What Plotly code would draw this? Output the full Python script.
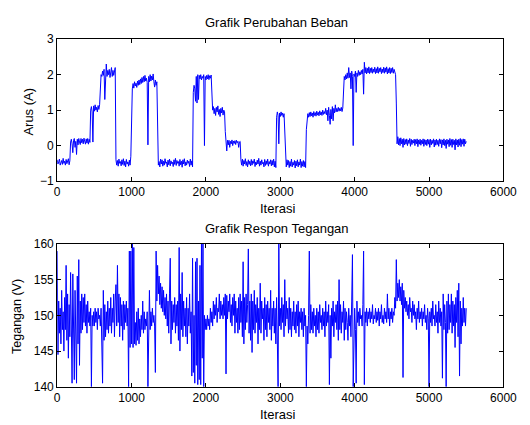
import plotly.graph_objects as go

step = 10
arus = [
    -0.40, -0.52, -0.45, -0.38, -0.55, -0.47, -0.42, -0.53, -0.36, -0.50,
    -0.44, -0.55, -0.39, -0.51, -0.46, -0.37, -0.54, -0.43, 0.10, 0.18,
    0.05, -0.20, 0.15, 0.20, -0.05, 0.12, -0.25, 0.18, 0.02, 0.20,
    0.10, 0.03, 0.20, 0.08, 0.18, 0.05, 0.21, 0.10, 0.04, 0.19,
    0.07, 0.20, 0.04, 0.18, 0.09, 1.00, 1.10, 0.95, 0.10, 1.12,
    0.97, 1.15, 1.00, 1.08, 0.95, 1.13, 1.02, 1.15, 1.60, 2.00,
    1.95, 2.10, 1.98, 2.15, 1.30, 2.05, 2.30, 1.95, 2.12, 2.00,
    2.15, 1.92, 2.08, 2.20, 1.95, 2.12, 1.98, 2.18, 2.20, -0.40,
    -0.55, -0.42, -0.58, -0.38, -0.50, -0.45, -0.57, -0.40, -0.53, -0.37,
    -0.56, -0.44, -0.60, -0.39, -0.52, -0.46, -0.58, -0.41, -0.55, -0.30,
    1.00, 1.60, 1.75, 1.62, 1.80, 1.68, 1.76, 1.64, 1.82, 1.70,
    1.85, 1.72, 1.88, 1.75, 1.92, 1.78, 1.95, 1.80, 1.98, 1.82,
    1.90, 1.78, 0.02, 1.95, 1.80, 2.00, 1.82, 1.96, 1.85, 2.02,
    1.80, 1.65, 1.85, 1.70, 1.80, -0.40, -0.55, -0.45, -0.60, -0.38,
    -0.52, -0.40, -0.58, -0.44, -0.55, -0.37, -0.50, -0.46, -0.60, -0.41,
    -0.54, -0.38, -0.57, -0.43, -0.51, -0.47, -0.59, -0.40, -0.53, -0.36,
    -0.56, -0.42, -0.50, -0.45, -0.58, -0.39, -0.54, -0.44, -0.61, -0.40,
    -0.52, -0.37, -0.57, -0.46, -0.55, -0.41, -0.50, -0.44, -0.59, -0.38,
    -0.55, -0.43, -0.60, 1.50, 1.70, 1.60, 1.25, 1.95, 1.20, 2.00,
    1.30, 1.98, 1.88, 2.00, 1.85, 1.95, 1.90, 2.00, 0.00, 1.95,
    1.85, 1.98, 1.88, 2.00, 1.86, 1.97, 1.90, 1.99, 1.20, 1.00,
    1.10, 0.90, 1.05, 0.85, 1.08, 0.95, 1.12, 0.88, 1.02, 0.82,
    1.05, 0.92, 1.08, 0.86, 1.00, 0.95, 0.40, 0.10, -0.15, 0.15,
    0.02, 0.15, -0.05, 0.12, 0.05, 0.16, 0.00, 0.13, 0.06, 0.14,
    0.03, 0.15, 0.08, 0.12, -0.05, 0.10, 0.12, -0.40, -0.55, -0.38,
    -0.58, -0.42, -0.52, -0.37, -0.56, -0.45, -0.60, -0.40, -0.53, -0.44,
    -0.57, -0.39, -0.55, -0.43, -0.50, -0.38, -0.59, -0.46, -0.54, -0.41,
    -0.52, -0.36, -0.58, -0.44, -0.55, -0.40, -0.51, -0.47, -0.60, -0.39,
    -0.56, -0.43, -0.53, -0.38, -0.58, -0.45, -0.52, -0.40, -0.57, -0.42,
    -0.55, -0.38, -0.60, -0.44, -0.62, 0.80, 0.95, 0.85, 0.05, 0.92,
    0.82, 0.95, 0.85, 0.92, 0.80, 0.90, 0.20, -0.45, -0.60, -0.40,
    -0.55, -0.42, -0.62, -0.45, -0.58, -0.38, -0.60, -0.47, -0.55, -0.42,
    -0.63, -0.44, -0.57, -0.40, -0.60, -0.46, -0.55, -0.38, -0.62, -0.45,
    -0.58, -0.42, -0.60, -0.45, -0.62, 0.45, 0.70, 0.90, 0.80, 0.93,
    0.82, 0.95, 0.84, 0.92, 0.80, 0.96, 0.85, 0.93, 0.83, 0.97,
    0.86, 0.94, 0.84, 0.98, 0.87, 0.95, 0.85, 1.00, 0.88, 0.96,
    0.90, 1.05, 0.87, 1.00, 0.70, 1.08, 0.85, 0.60, 1.02, 0.75,
    1.10, 0.70, 1.05, 0.92, 1.15, 0.95, 1.05, 0.96, 1.08, 0.97,
    1.05, 0.98, 1.08, 0.96, 1.06, 1.40, 1.95, 1.85, 2.00, 1.88,
    2.05, 1.90, 2.20, 1.92, 2.05, 1.60, 2.10, 1.95, 0.00, 2.02,
    1.95, 2.10, 1.50, 2.05, 1.95, 2.12, 1.98, 2.08, 2.00, 2.12,
    2.02, 2.15, 1.45, 2.35, 2.05, 2.20, 2.02, 2.18, 2.05, 2.22,
    2.03, 2.18, 2.06, 2.20, 2.04, 2.16, 2.07, 2.21, 2.03, 2.17,
    2.05, 2.22, 2.04, 2.18, 2.08, 2.20, 2.03, 2.16, 2.06, 2.21,
    2.04, 2.19, 2.07, 2.22, 2.02, 2.17, 2.05, 2.20, 2.03, 2.18,
    2.06, 2.20, 2.04, 2.15, 2.08, 2.00, 1.20, 0.05, 0.25, 0.02,
    0.20, 0.00, 0.22, 0.05, 0.18, -0.05, 0.20, 0.02, 0.17, 0.04,
    0.19, 0.00, 0.16, 0.06, 0.20, -0.02, 0.18, 0.03, 0.15, 0.07,
    0.18, 0.00, 0.17, 0.05, 0.19, -0.03, 0.16, 0.04, 0.18, 0.01,
    0.15, 0.05, 0.19, -0.02, 0.17, 0.03, 0.16, 0.00, 0.18, 0.04,
    0.17, -0.05, 0.18, 0.02, 0.15, 0.06, 0.19, -0.04, 0.16, 0.01,
    0.18, 0.03, 0.15, -0.02, 0.19, 0.05, 0.17, -0.06, 0.16, 0.02,
    0.19, 0.00, 0.15, -0.08, 0.18, 0.04, 0.16, -0.03, 0.20, 0.01,
    0.17, -0.05, 0.18, 0.03, 0.15, -0.12, 0.19, 0.02, 0.16, -0.04,
    0.18, 0.01, 0.20, -0.03, 0.17, 0.04, 0.19, -0.02, 0.18, 0.05,
    0.12,
]
tegangan = [
    159.0, 144.5, 152.0, 147.5, 151.0, 146.0, 153.5, 148.0, 150.5, 145.0,
    152.5, 148.0, 157.0, 146.5, 153.0, 144.0, 151.5, 147.0, 156.0, 143.5,
    140.5, 155.8, 147.0, 141.0, 153.5, 149.0, 140.5, 155.5, 146.0, 157.8,
    143.0, 152.0, 147.5, 153.0, 148.0, 152.5, 149.0, 153.0, 148.5, 151.5,
    147.5, 152.0, 149.0, 150.5, 148.5, 151.0, 140.0, 150.0, 148.5, 150.5,
    148.5, 151.0, 149.0, 150.5, 148.0, 151.0, 149.5, 150.0, 148.5, 151.0,
    145.0, 140.5, 153.5, 146.5, 151.5, 147.0, 150.5, 148.0, 152.0, 147.5,
    151.0, 148.5, 152.5, 147.5, 151.0, 149.0, 153.0, 147.0, 152.0, 154.3,
    148.5, 157.0, 149.0, 153.0, 147.0, 152.5, 148.5, 151.5, 146.5, 152.0,
    148.0, 151.5, 149.0, 152.0, 148.5, 151.0, 140.0, 159.0, 145.5, 159.0,
    146.0, 160.0, 145.5, 159.5, 146.0, 149.0, 145.8, 150.5, 146.5, 151.0,
    146.0, 149.5, 147.0, 150.0, 148.0, 152.0, 147.5, 150.5, 148.0, 149.5,
    148.5, 150.5, 140.0, 149.0, 153.5, 148.0, 150.5, 148.5, 151.0, 149.0,
    150.0, 148.5, 142.0, 159.0, 152.0, 157.0, 153.0, 155.5, 151.5, 154.5,
    151.0, 154.0, 150.5, 153.5, 150.0, 152.5, 149.5, 153.0, 148.5, 152.0,
    147.5, 153.0, 158.0, 146.0, 152.0, 148.0, 151.5, 149.0, 152.5, 147.5,
    151.5, 148.5, 152.0, 146.5, 159.5, 145.0, 153.0, 148.0, 156.0, 147.0,
    152.0, 148.5, 151.0, 147.0, 152.5, 146.0, 151.0, 148.5, 153.0, 147.5,
    150.5, 141.5, 158.0, 142.0, 150.0, 140.5, 157.5, 143.0, 158.0, 140.3,
    152.0, 141.0, 157.0, 140.3, 160.0, 144.0, 160.0, 140.0, 150.0, 148.0,
    149.5, 148.0, 150.0, 148.5, 149.5, 148.0, 151.0, 149.0, 150.5, 148.5,
    152.0, 149.5, 151.5, 150.0, 152.5, 149.0, 151.0, 150.5, 153.0, 149.5,
    152.0, 150.0, 151.5, 149.5, 152.5, 150.0, 153.0, 141.8, 152.8, 149.5,
    152.0, 150.5, 153.0, 149.0, 151.5, 148.5, 152.5, 150.0, 153.0, 147.5,
    152.0, 149.0, 151.0, 147.5, 152.5, 148.0, 153.0, 149.0, 152.0, 147.0,
    157.5, 146.0, 152.5, 148.0, 153.0, 149.0, 151.5, 159.3, 147.5, 152.0,
    146.5, 153.0, 144.8, 152.0, 148.0, 153.5, 147.5, 151.5, 149.0, 152.5,
    146.0, 151.0, 148.0, 154.5, 147.5, 152.0, 149.5, 151.0, 146.5, 152.5,
    148.0, 151.5, 147.0, 152.0, 149.0, 151.0, 148.0, 153.5, 146.5, 151.0,
    148.5, 152.0, 147.5, 151.0, 146.0, 152.5, 148.0, 140.0, 160.0, 148.5,
    151.0, 148.0, 152.5, 149.0, 151.5, 147.0, 155.0, 148.5, 152.0, 149.5,
    151.0, 147.5, 152.5, 148.0, 151.0, 147.0, 150.5, 148.5, 152.0, 148.0,
    150.5, 147.5, 151.5, 148.5, 152.0, 147.0, 150.5, 149.0, 151.0, 148.0,
    150.5, 147.0, 151.0, 148.5, 150.0, 140.0, 148.5, 146.0, 150.0, 159.0,
    147.5, 151.5, 148.0, 150.5, 147.5, 151.0, 148.5, 150.0, 147.0, 151.0,
    148.0, 150.5, 147.5, 151.5, 149.0, 150.0, 148.0, 151.0, 148.5, 150.5,
    147.0, 152.0, 148.5, 150.5, 149.0, 151.5, 140.3, 150.0, 144.0, 151.0,
    148.5, 152.0, 147.0, 150.5, 149.0, 151.5, 148.0, 152.0, 146.5, 155.0,
    148.0, 151.5, 147.5, 150.5, 149.0, 152.0, 146.5, 151.0, 148.0, 150.5,
    149.0, 146.5, 151.0, 148.5, 150.0, 147.0, 152.0, 158.5, 140.0, 150.5,
    151.0, 148.0, 140.5, 152.0, 149.0, 150.5, 148.5, 151.0, 149.5, 150.0,
    148.5, 151.5, 159.0, 140.3, 150.5, 149.0, 151.0, 148.5, 150.5, 149.5,
    151.0, 149.0, 150.5, 149.5, 151.5, 148.8, 150.0, 149.5, 151.0, 149.0,
    150.5, 149.3, 151.0, 148.5, 150.5, 149.5, 151.5, 149.0, 150.0, 148.8,
    151.0, 149.5, 150.5, 149.0, 153.0, 149.5, 151.0, 148.5, 150.5, 149.5,
    151.0, 149.0, 150.5, 150.0, 152.5, 151.0, 157.8, 152.0, 154.5, 152.5,
    155.0, 152.0, 154.0, 151.5, 154.5, 141.3, 153.5, 151.0, 152.5, 150.5,
    152.0, 150.0, 151.5, 149.5, 152.5, 150.5, 151.0, 149.0, 152.0, 150.0,
    151.5, 149.5, 150.5, 148.0, 151.0, 149.5, 152.0, 149.0, 150.5, 149.5,
    151.0, 148.5, 150.5, 149.5, 151.5, 149.0, 150.0, 148.0, 151.0, 149.5,
    140.0, 150.5, 149.0, 151.0, 148.5, 152.0, 149.5, 150.0, 148.5, 151.5,
    149.0, 150.5, 147.5, 152.0, 149.0, 151.0, 148.5, 150.5, 141.2, 153.0,
    148.0, 151.5, 149.0, 140.0, 152.0, 147.5, 153.0, 148.0, 151.5, 149.0,
    153.0, 147.5, 152.0, 148.5, 151.5, 145.5, 152.5, 149.0, 153.5, 147.0,
    154.5, 141.5, 152.0, 146.0, 151.0, 148.5, 152.5, 149.0, 151.0, 148.5,
    151.0,
]
iter_arus = [i * step for i in range(len(arus))]
iter_teg = [i * step for i in range(len(tegangan))]

x_ticks = [0, 1000, 2000, 3000, 4000, 5000, 6000]
arus_ticks = [-1, 0, 1, 2, 3]
teg_ticks = [140, 145, 150, 155, 160]

W, H = 530, 425
FONT = "Liberation Sans, Arial, sans-serif"
blue = "#0000ff"

fig = go.Figure()
fig.add_trace(go.Scatter(x=iter_arus, y=arus, mode="lines",
                         line=dict(color=blue, width=1), xaxis="x", yaxis="y"))
fig.add_trace(go.Scatter(x=iter_teg, y=tegangan, mode="lines",
                         line=dict(color=blue, width=1), xaxis="x2", yaxis="y2"))

def px_x(x):
    return x / W

def px_y(y):
    return 1 - y / H

x_dom = [px_x(56), px_x(517)]
top_dom = [px_y(180), px_y(33.3)]
bot_dom = [px_y(392.7), px_y(245)]

axis_common = dict(showline=True, linecolor="black", linewidth=1, mirror="ticks",
                   ticks="inside", ticklen=4, tickcolor="black", showgrid=False,
                   zeroline=False, ticklabeloverflow="allow",
                   tickfont=dict(family=FONT, size=12, color="black"))

fig.update_layout(
    width=W, height=H, margin=dict(l=0, r=0, t=0, b=0),
    paper_bgcolor="white", plot_bgcolor="white", showlegend=False,
    xaxis=dict(domain=x_dom, anchor="y", range=[0, 6000], tickvals=x_ticks, **axis_common),
    yaxis=dict(domain=top_dom, anchor="x", range=[-1, 3], tickvals=arus_ticks, **axis_common),
    xaxis2=dict(domain=x_dom, anchor="y2", range=[0, 6000], tickvals=x_ticks, **axis_common),
    yaxis2=dict(domain=bot_dom, anchor="x2", range=[140, 160], tickvals=teg_ticks, **axis_common),
)

def ann(text, x, y, size=13, angle=0):
    fig.add_annotation(text=text, x=px_x(x), y=px_y(y), xref="paper", yref="paper",
                       showarrow=False, textangle=angle,
                       font=dict(family=FONT, size=size, color="black"),
                       xanchor="center", yanchor="middle")

ann("Grafik Perubahan Beban", 283, 16, 13)
ann("Grafik Respon Tegangan", 283, 229, 13)
ann("Iterasi", 284, 208, 13)
ann("Iterasi", 284, 421, 13)
ann("Arus (A)", 26, 108, 13, -90)
ann("Tegangan (V)", 15, 320, 12.5, -90)

fig.write_html(
    "out.html",
    config={"displayModeBar": False},
    post_script="document.body.style.margin='0px';"
                "document.documentElement.style.overflow='hidden';"
                "document.body.style.overflow='hidden';",
)
